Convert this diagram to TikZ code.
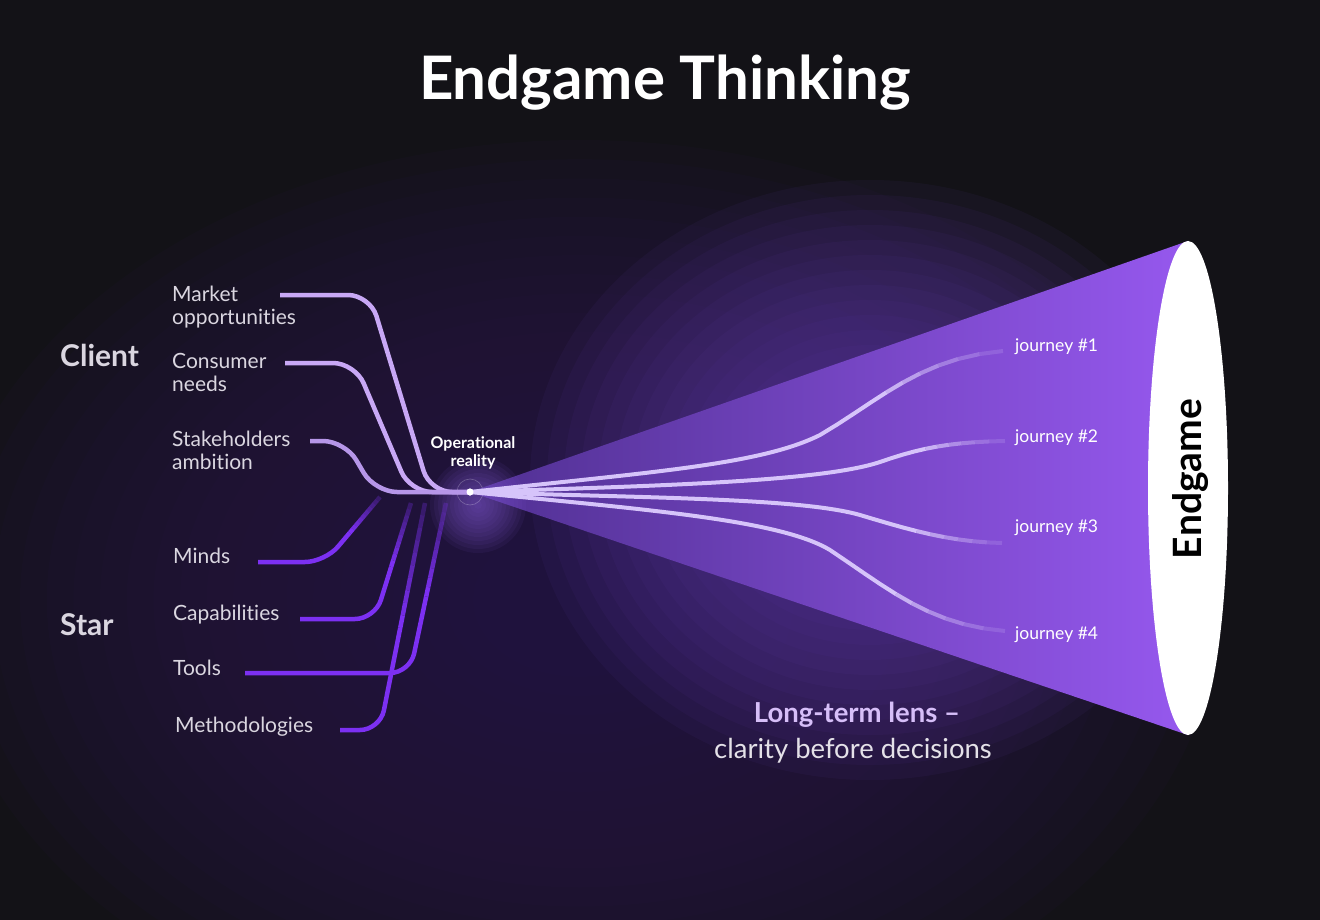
\documentclass[tikz,border=0pt]{standalone}
\usepackage{fontspec}
\setmainfont[Ligatures={TeX,NoCommon}]{Lato}
\usetikzlibrary{positioning, calc}
\definecolor{bgdark}{RGB}{19,18,23}
\definecolor{haze}{RGB}{42,25,72}
\definecolor{conehaze}{RGB}{100,62,176}
\definecolor{ohalo}{RGB}{128,88,210}
\definecolor{conel}{RGB}{80,48,146}
\definecolor{coner}{RGB}{150,88,238}
\definecolor{itemtext}{RGB}{218,214,224}
\definecolor{clientcol}{RGB}{200,168,245}
\definecolor{stakecol}{RGB}{182,150,232}
\definecolor{starcol}{RGB}{124,48,242}
\definecolor{journeycol}{RGB}{214,196,250}
\definecolor{lenscol}{RGB}{214,190,248}
\definecolor{claritycol}{RGB}{228,225,232}

\begin{document}
\begin{tikzpicture}[x=1pt, y=-1pt,
    item/.style={font=\fontsize{21}{23}\selectfont, text=itemtext, align=left, inner sep=0pt, anchor=west},
    group/.style={font=\bfseries\fontsize{30}{32}\selectfont, text=itemtext, inner sep=0pt, anchor=west},
    journey/.style={font=\fontsize{17.5}{20}\selectfont, text=white, inner sep=0pt, anchor=west},
    clientline/.style={line width=4.5pt, draw=clientcol, rounded corners=22pt},
    starline/.style={line width=4.5pt, draw=starcol, rounded corners=20pt},
    starfade/.style={line width=4.5pt, draw=starcol},
    jline/.style={line width=4pt, draw=journeycol},
  ]
  \fill[bgdark] (0,0) rectangle (1320,920);
  \useasboundingbox (0,0) rectangle (1320,920);
  \foreach \k in {1,...,24}
    \fill[haze, opacity=0.09] (580,600) ellipse [x radius=640*\k/24, y radius=460*\k/24];
  \foreach \k in {1,...,20}
    \fill[conehaze, opacity=0.07] (870,480) ellipse [x radius=340*\k/20, y radius=300*\k/20];

  \node[font=\bfseries\fontsize{60}{64}\selectfont, text=white, anchor=base] (title) at (665,100) {Endgame Thinking};

  % lens
  \coordinate (focus) at (470,492);
  \coordinate (rimtop) at (1188,241);
  \coordinate (rimbot) at (1188,735);
  \shade[left color=conel, right color=coner] (focus) -- (rimtop) -- (rimbot) -- cycle;
  \fill[white] (1188,488) ellipse [x radius=40, y radius=247];
  \node[rotate=90, font=\bfseries\fontsize{39}{42}\selectfont, text=black] (endgame) at (1191,479) {Endgame};
  \foreach \k in {1,...,12}
    \fill[ohalo, opacity=0.08] (478,505) circle [radius=4*\k];

  \node[circle, fill=white, inner sep=0pt, minimum size=7pt] (O) at (focus) {};
  \draw[white, opacity=0.25, line width=0.6pt] (O.center) circle [radius=13];
  \node[above=19pt of O, xshift=3pt, font=\bfseries\fontsize{16}{18}\selectfont, align=center, text=white, inner sep=0pt] (oplabel) {Operational\\reality};

  \node[group] (client) at (60,355) {Client};
  \node[group] (star) at (60,625) {Star};

  \node[item] (market) at (172,307.5) {Market\\opportunities};
  \node[item] (consumer) at (172,372.5) {Consumer\\needs};
  \node[item] (stake) at (172,450.5) {Stakeholders\\ambition};
  \node[item] (minds) at (173,556) {Minds};
  \node[item] (capab) at (173,615) {Capabilities};
  \node[item] (tools) at (173,668) {Tools};
  \node[item] (method) at (175,727) {Methodologies};

  \coordinate (mkt) at (280,295);
  \coordinate (cns) at (285,363);
  \coordinate (stk) at (310,441);
  \coordinate (mnd) at (258,562);
  \coordinate (mnd-c) at (325,562);
  \coordinate (mnd-e) at (380,497);
  \coordinate (cap) at (300,619);
  \coordinate (cap-c) at (375,619);
  \coordinate (cap-e) at (411,503);
  \coordinate (tls) at (245,673);
  \coordinate (tls-c) at (410,673);
  \coordinate (tls-e) at (446,503);
  \coordinate (mth) at (340,730);
  \coordinate (mth-c) at (380,730);
  \coordinate (mth-e) at (425,503);

  \draw[clientline] (mkt) -- (370,295) -- (430,492) -- (O.center);
  \draw[clientline] (cns) -- (355,363) -- (410,492) -- (O.center);
  \draw[clientline, draw=stakecol] (stk) -- (345,441) -- (375,492) -- (O.center);

  \foreach \s in {mnd, cap, tls, mth} {
    \draw[starline] (\s) -- (\s-c) -- ($(\s-c)!0.45!(\s-e)$);
    \foreach \t [evaluate=\t as \op using 1-0.08*\t,
                 evaluate=\t as \a using 0.45+0.055*\t,
                 evaluate=\t as \b using 0.505+0.055*\t] in {0,...,9}
      \draw[starfade, opacity=\op] ($(\s-c)!\a!(\s-e)$) -- ($(\s-c)!\b!(\s-e)$);
  }

  \node[journey] (j1) at (1015,347) {journey \#1};
  \node[journey] (j2) at (1015,438) {journey \#2};
  \node[journey] (j3) at (1015,528) {journey \#3};
  \node[journey] (j4) at (1015,635) {journey \#4};

  \coordinate (j1-a) at (650,472); \coordinate (j1-b) at (760,465); \coordinate (j1-k) at (820,435);
  \coordinate (j1-p) at (880,400); \coordinate (j1-q) at (920,358); \coordinate (j1-e) at (1003,351);
  \coordinate (j2-a) at (650,486); \coordinate (j2-b) at (820,482); \coordinate (j2-k) at (880,462);
  \coordinate (j2-p) at (920,448); \coordinate (j2-q) at (950,442); \coordinate (j2-e) at (1005,441);
  \coordinate (j3-a) at (650,498); \coordinate (j3-b) at (800,498); \coordinate (j3-k) at (860,515);
  \coordinate (j3-p) at (910,530); \coordinate (j3-q) at (950,542); \coordinate (j3-e) at (1002,543);
  \coordinate (j4-a) at (650,510); \coordinate (j4-b) at (780,520); \coordinate (j4-k) at (830,550);
  \coordinate (j4-p) at (890,590); \coordinate (j4-q) at (930,625); \coordinate (j4-e) at (1005,631);

  \foreach \j in {j1, j2, j3, j4} {
    \path (\j-k) .. controls (\j-p) and (\j-q) .. (\j-e)
      coordinate[pos=0.1] (\j-s1) coordinate[pos=0.2] (\j-s2) coordinate[pos=0.3] (\j-s3)
      coordinate[pos=0.4] (\j-s4) coordinate[pos=0.5] (\j-s5) coordinate[pos=0.6] (\j-s6)
      coordinate[pos=0.7] (\j-s7) coordinate[pos=0.8] (\j-s8) coordinate[pos=0.9] (\j-s9)
      coordinate[pos=1] (\j-s10);
    \draw[jline] (O.center) .. controls (\j-a) and (\j-b) .. (\j-k) -- (\j-s1) -- (\j-s2) -- (\j-s3) -- (\j-s4);
    \foreach \u/\v/\op in {4/5/0.85, 5/6/0.7, 6/7/0.55, 7/8/0.42, 8/9/0.3, 9/10/0.18}
      \draw[jline, opacity=\op] (\j-s\u) -- (\j-s\v);
  }
  \fill[white] (O) circle [radius=3.5];

  \node[font=\bfseries\fontsize{27.5}{30}\selectfont, text=lenscol, anchor=base] (lens) at (857,722) {Long-term lens –};
  \node[font=\fontsize{27.5}{30}\selectfont, text=claritycol, anchor=base] (clarity) at (853,758) {clarity before decisions};
\end{tikzpicture}
\end{document}
